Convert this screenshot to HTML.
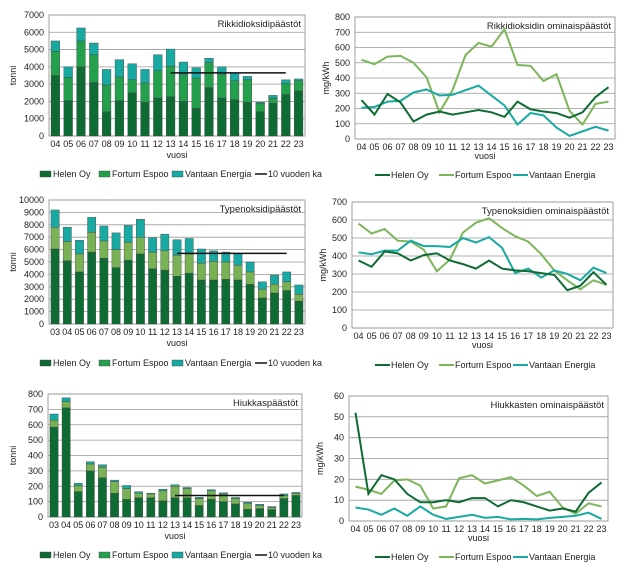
<!DOCTYPE html>
<html><head><meta charset="utf-8"><style>
body{margin:0;background:#fff;}
svg{display:block;font-family:"Liberation Sans",sans-serif;}
</style></head><body>
<svg id="s" width="640" height="575" xmlns="http://www.w3.org/2000/svg"></svg>
<script>
const S=document.getElementById('s');let h='';
const HC='#0e6b33',FC1='#22a04c',FC='#79b155',VC='#19a9a3',FL='#7cb55a';
function t(x,y,s,o){o=o||{};h+=`<text x="${x}" y="${y}" font-size="${o.fs||9}" fill="#222" text-anchor="${o.a||'start'}" ${o.tr?`transform="${o.tr}"`:''}>${s}</text>`;}
function frame(L,R,T,B,max,step,title,ylab,ylx){
 h+=`<rect x="${L}" y="${T}" width="${R-L}" height="${B-T}" fill="#fff" stroke="#888" stroke-width="0.8"/>`;
 for(let v=0;v<=max;v+=step){let y=B-(B-T)*v/max;h+=`<line x1="${L}" x2="${R}" y1="${y}" y2="${y}" stroke="#999" stroke-width="0.8"/>`;t(L-5,y+3,v,{a:'end'});}
 t(R-4,T+12,title,{a:'end',fs:9.5});
 let my=(T+B)/2;t(ylx,my,ylab,{a:'middle',tr:`rotate(-90 ${ylx} ${my})`});
}
function bars(L,R,T,B,max,step,title,start,data,avg,ly,fc){
 frame(L,R,T,B,max,step,title,'tonni',16);
 let n=data.length,w=(R-L)/n,bw=w*0.68;
 data.forEach((d,i)=>{let x=L+w*i+(w-bw)/2;let prev=0;[HC,fc,VC].forEach((c,j)=>{let y1=B-(B-T)*d[j]/max,y0=B-(B-T)*prev/max;h+=`<rect x="${x}" y="${y1}" width="${bw}" height="${y0-y1}" fill="${c}" stroke="#444" stroke-width="0.4"/>`;prev=d[j];});
 t(L+w*i+w/2,B+11,String(start+i).padStart(2,'0'),{a:'middle'});});
 let i0=13-start,i1=22-start,ya=B-(B-T)*avg/max;
 h+=`<line x1="${L+w*i0+w/2}" x2="${L+w*i1+w/2}" y1="${ya}" y2="${ya}" stroke="#111" stroke-width="1.5"/>`;
 t((L+R)/2,B+22,'vuosi',{a:'middle'});
 let items=[[40,HC,'Helen Oy'],[99,FC1,'Fortum Espoo'],[172,VC,'Vantaan Energia']];
 items.forEach(([x,c,s])=>{h+=`<rect x="${x}" y="${ly-6}" width="11" height="6" fill="${c}" stroke="#444" stroke-width="0.4"/>`;t(x+13,ly,s);});
 h+=`<line x1="255" x2="267" y1="${ly-3}" y2="${ly-3}" stroke="#111" stroke-width="1.5"/>`;t(268,ly,'10 vuoden ka');
}
function lines(L,R,T,B,max,step,title,series,ly){
 frame(L,R,T,B,max,step,title,'mg/kWh',L-26);
 let n=20,w=(R-L)/n;
 for(let i=0;i<n;i++)t(L+w*i+w/2,B+11,String(4+i).padStart(2,'0'),{a:'middle'});
 series.forEach(([d,c])=>{h+=`<polyline fill="none" stroke="${c}" stroke-width="2" points="${d.map((v,i)=>`${L+w*i+w/2},${B-(B-T)*v/max}`).join(' ')}"/>`;});
 t((L+R)/2,B+20,'vuosi',{a:'middle'});
 [[375,HC,'Helen Oy'],[439,FL,'Fortum Espoo'],[513,VC,'Vantaan Energia']].forEach(([x,c,s])=>{h+=`<line x1="${x}" x2="${x+15}" y1="${ly-3}" y2="${ly-3}" stroke="${c}" stroke-width="2"/>`;t(x+16,ly,s);});
}
bars(49,305,15,136,7000,1000,'Rikkidioksidipäästöt',4,[[3500,4900,5500],[2050,3400,4000],[4000,5500,6250],[3100,4700,5380],[1400,2950,3850],[2050,3420,4420],[2500,3250,4180],[1950,3070,3850],[2200,3780,4700],[2270,4050,5030],[2000,3550,4280],[1600,3350,3950],[2800,4250,4500],[2200,3580,4000],[2100,3200,3650],[1950,3250,3450],[1400,1900,1950],[1900,2200,2350],[2400,3050,3250],[2600,3200,3300]],3650,177,FC1);
lines(355,615,17,139,800,100,'Rikkidioksidin ominaispäästöt',[
[[520,490,540,545,500,405,175,320,550,630,605,720,485,480,380,425,185,95,230,245],FL],
[[205,210,245,250,305,325,285,290,320,350,285,220,95,170,155,75,20,50,80,55],VC],
[[255,160,295,240,115,160,180,160,175,190,175,145,245,195,180,170,140,175,275,340],HC]],178);
bars(49,305,200,324,10000,1000,'Typenoksidipäästöt',3,[[6050,7800,9200],[5100,6650,7800],[4200,5650,6750],[5800,7400,8600],[5300,6700,7900],[4550,6000,7350],[5150,6600,7950],[5650,7000,8450],[4450,5800,6950],[4350,5900,7250],[3850,5550,6800],[4100,5650,6900],[3550,4900,6050],[3550,5050,5900],[3600,5000,5800],[3550,4750,5650],[3200,4200,5000],[2100,2800,3400],[2500,3200,3950],[2700,3400,4200],[1850,2400,3150]],5700,366,FC);
lines(352,613,202,328,700,100,'Typenoksidien ominaispäästöt',[
[[580,525,550,485,480,435,315,380,530,585,610,555,510,480,410,320,265,215,265,240],FL],
[[420,410,430,430,485,455,455,450,500,475,505,445,305,330,280,320,300,265,335,305],VC],
[[375,340,425,415,375,405,415,375,355,330,375,330,320,315,305,295,210,235,310,240],HC]],368);
bars(48,302,394,517,800,100,'Hiukkaspäästöt',3,[[585,630,670],[710,750,775],[165,205,220],[300,345,360],[255,325,340],[155,230,240],[115,185,205],[125,155,165],[125,150,155],[105,170,180],[125,200,210],[125,185,192],[75,120,128],[115,170,178],[100,150,157],[85,120,127],[50,90,97],[55,75,83],[48,62,68],[120,140,150],[140,155,160]],140,558,FC);
lines(349,608,396,521,60,10,'Hiukkasten ominaispäästöt',[
[[16.5,15,13,19.5,20,17,6,7,20.5,22,18,19.5,21,17,12,14,6.5,3.5,8.5,7],FL],
[[6.5,5.5,3,6,2.5,7,3,1,2,3,1.5,2,0.8,1,0.8,1.5,2,2.5,4,1],VC],
[[52,13,22,20,13,9,9,10,9,11,11,7,10,9,7,5,6,4.5,13.5,18.5],HC]],560);
S.innerHTML=h;
</script>
</body></html>
